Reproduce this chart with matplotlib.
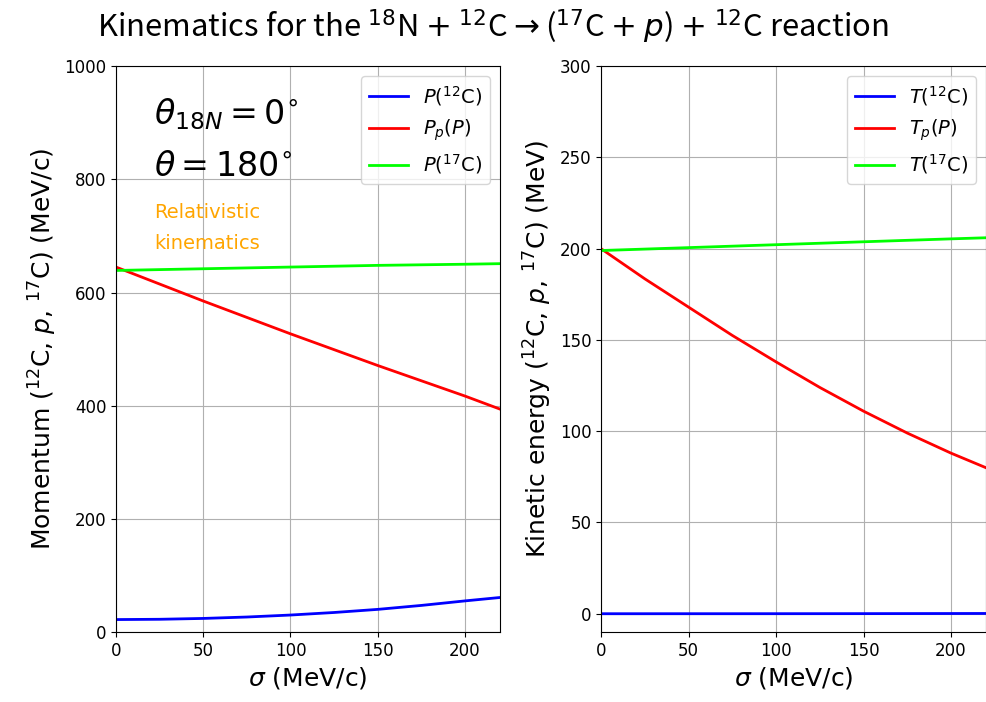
import numpy as np
import matplotlib.pyplot as plt

plt.rcParams['font.family'] = ['DejaVu Sans']
plt.rcParams['mathtext.fontset'] = 'dejavusans'

# sigma (MeV/c)
sigma = [0, 25, 50, 75, 100, 125, 150, 175, 200, 220]

# momenta (MeV/c)
p_12c = [22, 22.5, 24, 26.5, 30, 34.5, 40, 47, 55, 61]
p_p = [645, 615, 585, 556, 527, 499, 471, 444, 417, 394]
p_17c = [639, 640.5, 642, 643.5, 645, 646.5, 648, 649, 650, 651]

# kinetic energies (MeV)
t_12c = [0.02, 0.02, 0.03, 0.03, 0.04, 0.05, 0.07, 0.1, 0.13, 0.16]
t_p = [200, 183.5, 168, 152.5, 138, 124, 111, 99, 88, 80]
t_17c = [199, 199.8, 200.6, 201.4, 202.2, 203, 203.8, 204.6, 205.4, 206]

fig = plt.figure(figsize=(9.87, 7.02), dpi=100)
ax1 = fig.add_axes([0.1175, 0.0997, 0.389, 0.806])
ax2 = fig.add_axes([0.609, 0.0997, 0.390, 0.806])

ax1.plot(sigma, p_12c, color='blue', lw=2, label=r'$P(^{12}$C$)$')
ax1.plot(sigma, p_p, color='red', lw=2, label=r'$P_p(P)$')
ax1.plot(sigma, p_17c, color='lime', lw=2, label=r'$P(^{17}$C$)$')
ax1.set_xlim(0, 220)
ax1.set_ylim(0, 1000)
ax1.grid(True)
ax1.legend(loc='upper right', fontsize=14)
ax1.set_xlabel(r'$\sigma$ (MeV/c)', fontsize=18)
ax1.set_ylabel(r'Momentum ($^{12}$C, $p$, $^{17}$C) (MeV/c)', fontsize=18)
ax1.tick_params(labelsize=12)
ax1.text(0.1, 0.915, r'$\theta_{18N}=0^{\circ}$', transform=ax1.transAxes,
         fontsize=24, va='center')
ax1.text(0.1, 0.822, r'$\theta=180^{\circ}$', transform=ax1.transAxes,
         fontsize=24, va='center')
ax1.text(0.1, 0.714, 'Relativistic\nkinematics', transform=ax1.transAxes,
         fontsize=14, color='orange', va='center', linespacing=1.75)

ax2.plot(sigma, t_12c, color='blue', lw=2, label=r'$T(^{12}$C$)$')
ax2.plot(sigma, t_p, color='red', lw=2, label=r'$T_p(P)$')
ax2.plot(sigma, t_17c, color='lime', lw=2, label=r'$T(^{17}$C$)$')
ax2.set_xlim(0, 220)
ax2.set_ylim(-10, 300)
ax2.grid(True)
ax2.legend(loc='upper right', fontsize=14)
ax2.set_xlabel(r'$\sigma$ (MeV/c)', fontsize=18)
ax2.set_ylabel(r'Kinetic energy ($^{12}$C, $p$, $^{17}$C) (MeV)', fontsize=18)
ax2.tick_params(labelsize=12)

fig.suptitle(r'Kinematics for the $^{18}$N $+$ $^{12}$C$\rightarrow$($^{17}$C $+$ $p$) $+$ $^{12}$C reaction',
             fontsize=22.3, y=0.99, family=['Noto Sans CJK JP', 'DejaVu Sans'])

fig.savefig('out.png', dpi=100)
